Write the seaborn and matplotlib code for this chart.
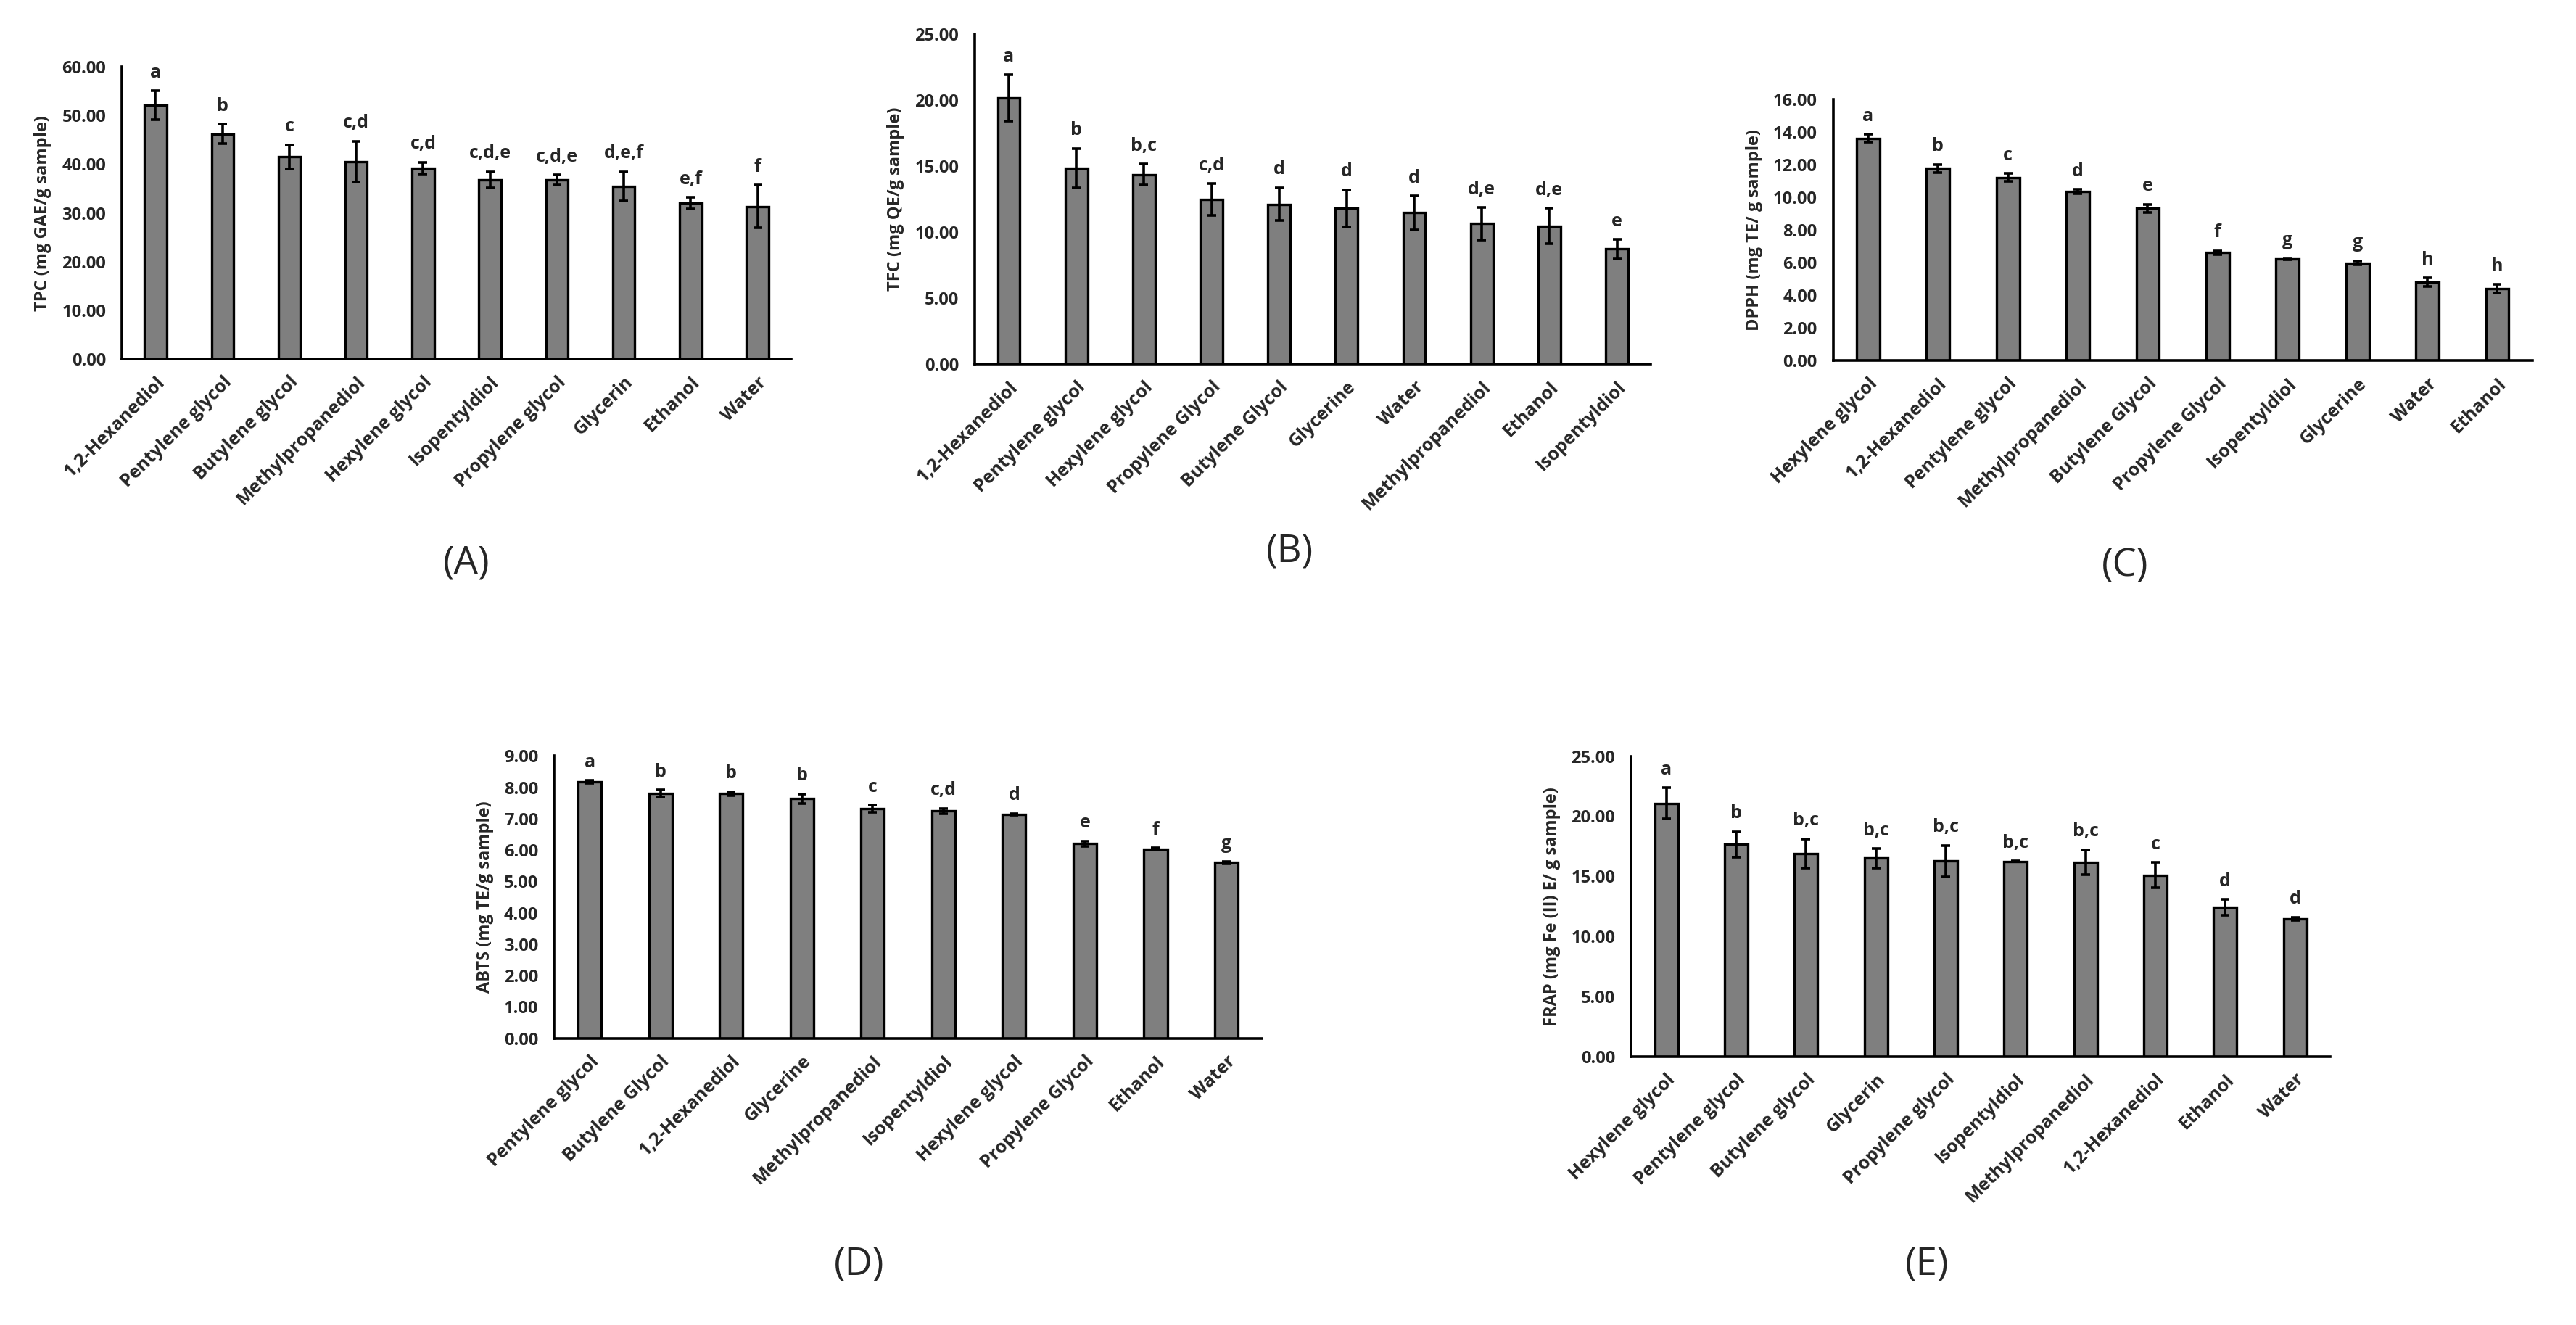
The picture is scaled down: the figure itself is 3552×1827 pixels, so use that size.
import matplotlib
matplotlib.use("Agg")
import matplotlib.pyplot as plt
import seaborn as sns
from matplotlib.ticker import MultipleLocator, StrMethodFormatter

# ---- dados ----
tpc_names = ["1,2-Hexanediol", "Pentylene glycol", "Butylene glycol", "Methylpropanediol",
             "Hexylene glycol", "Isopentyldiol", "Propylene glycol", "Glycerin", "Ethanol", "Water"]
tpc_vals = [52.1, 46.2, 41.5, 40.5, 39.2, 36.8, 36.8, 35.5, 32.0, 31.3]
tpc_err = [3.0, 2.0, 2.5, 4.2, 1.2, 1.7, 1.0, 3.0, 1.2, 4.4]
tpc_sig = ["a", "b", "c", "c,d", "c,d", "c,d,e", "c,d,e", "d,e,f", "e,f", "f"]

tfc_names = ["1,2-Hexanediol", "Pentylene glycol", "Hexylene glycol", "Propylene Glycol",
             "Butylene Glycol", "Glycerine", "Water", "Methylpropanediol", "Ethanol", "Isopentyldiol"]
tfc_vals = [20.15, 14.83, 14.34, 12.45, 12.09, 11.78, 11.45, 10.62, 10.44, 8.70]
tfc_err = [1.75, 1.5, 0.8, 1.2, 1.25, 1.4, 1.28, 1.23, 1.34, 0.73]
tfc_sig = ["a", "b", "b,c", "c,d", "d", "d", "d", "d,e", "d,e", "e"]

dpph_names = ["Hexylene glycol", "1,2-Hexanediol", "Pentylene glycol", "Methylpropanediol",
              "Butylene Glycol", "Propylene Glycol", "Isopentyldiol", "Glycerine", "Water", "Ethanol"]
dpph_vals = [13.6, 11.75, 11.2, 10.35, 9.32, 6.61, 6.21, 5.98, 4.79, 4.39]
dpph_err = [0.25, 0.25, 0.25, 0.13, 0.25, 0.12, 0.03, 0.13, 0.27, 0.27]
dpph_sig = ["a", "b", "c", "d", "e", "f", "g", "g", "h", "h"]

abts_names = ["Pentylene glycol", "Butylene Glycol", "1,2-Hexanediol", "Glycerine",
              "Methylpropanediol", "Isopentyldiol", "Hexylene glycol", "Propylene Glycol", "Ethanol", "Water"]
abts_vals = [8.17, 7.80, 7.80, 7.64, 7.32, 7.24, 7.13, 6.20, 6.03, 5.60]
abts_err = [0.05, 0.12, 0.06, 0.15, 0.11, 0.08, 0.03, 0.08, 0.03, 0.03]
abts_sig = ["a", "b", "b", "b", "c", "c,d", "d", "e", "f", "g"]

frap_names = ["Hexylene glycol", "Pentylene glycol", "Butylene glycol", "Glycerin", "Propylene glycol",
              "Isopentyldiol", "Methylpropanediol", "1,2-Hexanediol", "Ethanol", "Water"]
frap_vals = [21.07, 17.65, 16.9, 16.5, 16.26, 16.24, 16.16, 15.09, 12.43, 11.47]
frap_err = [1.3, 1.07, 1.2, 0.8, 1.3, 0.03, 1.05, 1.07, 0.65, 0.12]
frap_sig = ["a", "b", "b,c", "b,c", "b,c", "b,c", "b,c", "c", "d", "d"]

sns.set_theme(style="white")
plt.rcParams["font.family"] = ["Open Sans", "DejaVu Sans"]

fig = plt.figure(figsize=(35.52, 18.27), dpi=100)

paineis = [
    # nomes, valores, erros, letras, ylabel, ymax, passo, [left, bottom, width, height], letra painel, pos
    (tpc_names, tpc_vals, tpc_err, tpc_sig, "TPC (mg GAE/g sample)", 60, 10,
     [0.0474, 0.7291, 0.2597, 0.2204], "(A)", (0.181, 0.575)),
    (tfc_names, tfc_vals, tfc_err, tfc_sig, "TFC (mg QE/g sample)", 25, 5,
     [0.3785, 0.7254, 0.2623, 0.2490], "(B)", (0.5006, 0.5835)),
    (dpph_names, dpph_vals, dpph_err, dpph_sig, "DPPH (mg TE/ g sample)", 16, 2,
     [0.7116, 0.7278, 0.2714, 0.1974], "(C)", (0.825, 0.5725)),
    (abts_names, abts_vals, abts_err, abts_sig, "ABTS (mg TE/g sample)", 9, 1,
     [0.2152, 0.2164, 0.2746, 0.2131], "(D)", (0.3335, 0.0454)),
    (frap_names, frap_vals, frap_err, frap_sig, "FRAP (mg Fe (II) E/ g sample)", 25, 5,
     [0.6333, 0.2027, 0.2712, 0.2266], "(E)", (0.748, 0.0454)),
]

for nomes, vals, errs, letras, ylab, ymax, passo, rect, painel, pos in paineis:
    ax = fig.add_axes(rect)
    sns.barplot(x=nomes, y=vals, color="#7f7f7f", saturation=1, width=0.33,
                edgecolor="black", linewidth=2.4, errorbar=None, ax=ax)
    ax.errorbar(x=range(len(vals)), y=vals, yerr=errs, fmt="none", ecolor="black",
                elinewidth=2.6, capsize=4.5, capthick=2.6)
    for i, (v, e, s) in enumerate(zip(vals, errs, letras)):
        ax.annotate(s, (i, v + e), xytext=(0, 9), textcoords="offset points",
                    ha="center", va="bottom", fontsize=18, fontweight="bold")

    ax.set_xlim(-0.5, len(vals) - 0.5)
    ax.set_ylim(0, ymax)
    ax.yaxis.set_major_locator(MultipleLocator(passo))
    ax.yaxis.set_major_formatter(StrMethodFormatter("{x:.2f}"))
    ax.tick_params(axis="y", direction="in", length=9, width=2.4, labelsize=17, pad=16)
    ax.tick_params(axis="x", length=0, labelsize=18, pad=14)
    for lab in ax.get_yticklabels():
        lab.set_fontweight("bold")
    ax.set_xticks(range(len(nomes)))
    ax.set_xticklabels(nomes, rotation=45, ha="right", rotation_mode="anchor",
                       fontweight="bold")
    ax.set_ylabel(ylab, fontsize=17, fontweight="bold", labelpad=10)
    ax.set_xlabel("")
    sns.despine(ax=ax)
    for sp in ["left", "bottom"]:
        ax.spines[sp].set_linewidth(2.6)
        ax.spines[sp].set_color("black")
    fig.text(pos[0], pos[1], painel, fontsize=38, ha="center", va="center")

fig.savefig("out.png", dpi=100)
